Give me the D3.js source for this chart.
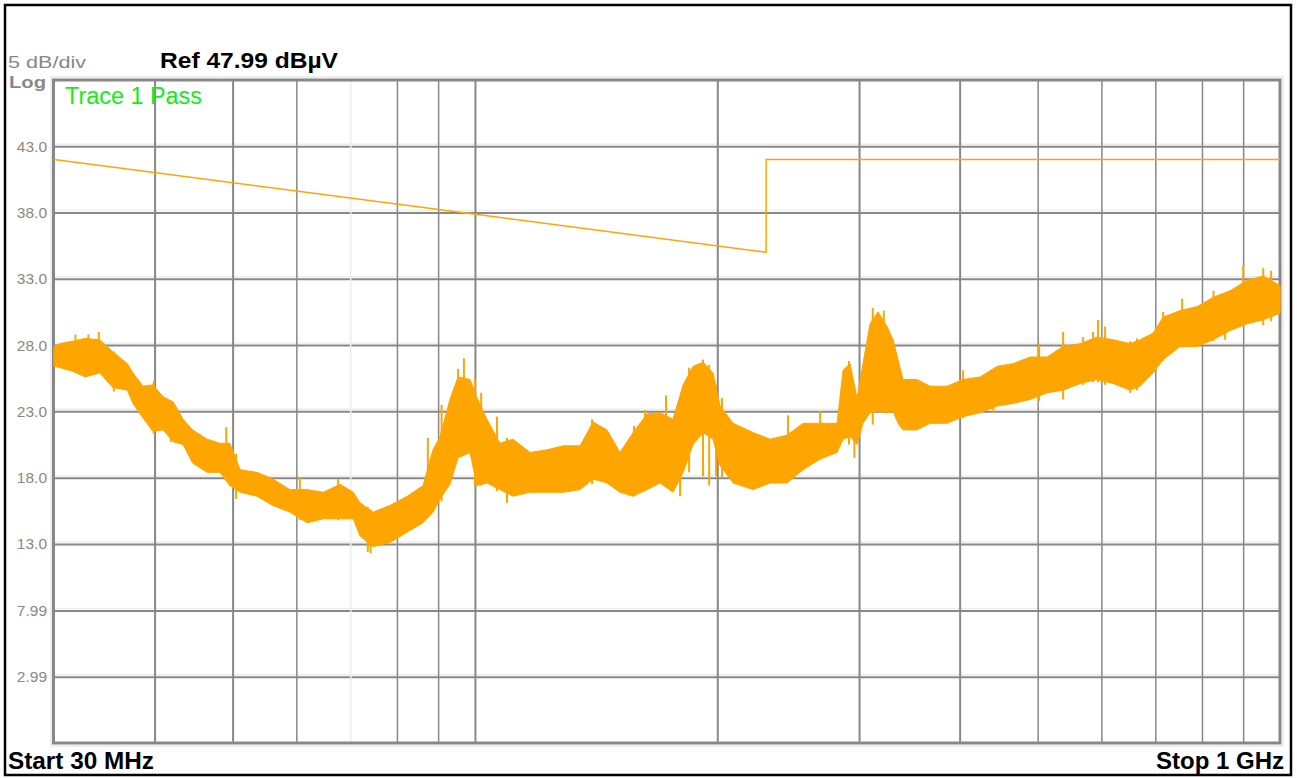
<!DOCTYPE html>
<html>
<head>
<meta charset="utf-8">
<script src="https://cdn.jsdelivr.net/npm/d3@7/dist/d3.min.js"></script>
<style>
  html, body { margin: 0; padding: 0; background: #fff; }
  svg { display: block; }
  text { font-family: "Liberation Sans", Arial, sans-serif; }
</style>
</head>
<body>
<svg id="chart" width="1297" height="778"></svg>
<script>
// ---------------- data ----------------
const refLevel = 47.99;          // dBµV at top of screen
const dbPerDiv = 5;
const yTickValues = [43.0, 38.0, 33.0, 28.0, 23.0, 18.0, 13.0, 7.99, 2.99];
const yTickLabels = ["43.0", "38.0", "33.0", "28.0", "23.0", "18.0", "13.0", "7.99", "2.99"];
const xGridFreqs = [40, 50, 60, 70, 80, 90, 100, 200, 300, 400, 500, 600, 700, 800, 900];
const xFaintFreqs = [70];

// limit line (MHz, dBµV)
const limitFreq = [30, 230, 230, 1000];
const limitVal  = [42.0, 35.0, 42.0, 42.0];

// measured trace envelope (MHz, dBµV)
const traceFreq = [30.0, 30.5, 31.7, 32.8, 34.2, 35.5, 37.0, 37.6, 38.7, 39.8,
  41.0, 42.2, 43.4, 44.6, 46.5, 48.2, 49.6, 51.1, 53.6, 56.1,
  58.9, 61.9, 64.8, 68.0, 70.6, 72.0, 74.7, 78.4, 82.4, 86.2,
  88.7, 90.5, 93.1, 95.3, 98.6, 100.6, 103.5, 107.4, 111.5, 117.1,
  122.9, 128.7, 135.1, 140.2, 145.9, 151.4, 157.2, 163.6, 169.8, 176.2,
  181.4, 186.6, 192.0, 197.6, 201.6, 209.3, 221.6, 232.6, 244.1, 255.6,
  268.4, 281.7, 286.6, 292.4, 298.3, 303.4, 309.6, 316.7, 325.0, 330.6,
  335.4, 340.2, 354.1, 367.5, 385.9, 404.0, 424.3, 445.5, 466.3, 489.4,
  513.7, 537.8, 564.6, 592.6, 620.5, 651.4, 670.3, 695.6, 715.8, 751.5,
  789.1, 826.1, 867.3, 910.4, 953.2, 1000];
const traceHi = [27.9, 28.1, 28.3, 28.5, 28.4, 27.5, 26.6, 25.9, 24.9, 25.0,
  24.1, 23.7, 22.4, 21.6, 20.9, 20.6, 20.6, 18.6, 18.4, 17.9,
  17.1, 17.1, 16.9, 17.5, 16.9, 16.1, 15.4, 15.9, 16.6, 17.4,
  20.1, 21.1, 23.9, 25.6, 25.4, 24.0, 22.4, 20.6, 20.9, 19.9,
  20.1, 20.4, 20.4, 22.2, 21.6, 19.9, 21.4, 22.8, 22.9, 22.4,
  25.0, 26.4, 26.7, 25.9, 23.4, 22.1, 21.4, 20.9, 21.2, 22.1,
  22.1, 22.1, 26.1, 26.6, 24.0, 26.6, 29.6, 30.5, 29.4, 28.4,
  26.9, 25.4, 25.4, 24.9, 24.9, 25.4, 25.6, 26.4, 26.6, 27.1,
  27.1, 27.9, 28.1, 28.6, 28.4, 28.1, 28.4, 28.9, 30.1, 30.6,
  30.9, 31.6, 32.1, 32.9, 33.2, 32.5];
const traceLo = [26.4, 26.3, 26.0, 25.6, 25.9, 24.8, 24.6, 23.6, 22.5, 21.5,
  21.6, 20.7, 20.5, 19.1, 18.4, 18.4, 17.4, 16.9, 16.6, 15.9,
  15.4, 14.6, 14.9, 14.9, 14.9, 13.6, 12.8, 13.1, 13.9, 14.6,
  15.4, 16.4, 17.5, 19.5, 19.9, 17.4, 17.6, 17.1, 16.6, 16.9,
  16.9, 16.9, 17.1, 17.9, 17.6, 16.9, 16.6, 17.1, 17.6, 16.9,
  18.4, 20.5, 21.4, 20.9, 18.9, 17.6, 17.1, 17.6, 17.6, 18.6,
  19.4, 19.9, 20.9, 21.1, 20.5, 22.1, 22.9, 23.0, 22.9, 23.0,
  22.1, 21.6, 21.6, 22.1, 22.1, 22.6, 22.9, 23.4, 23.6, 23.9,
  24.4, 24.6, 25.1, 25.4, 25.1, 24.6, 24.9, 25.9, 26.9, 27.9,
  27.9, 28.4, 29.1, 29.6, 29.9, 30.4];

// individual spikes (MHz, top dBµV, bottom dBµV)
const spikeFreq = [31.9, 33.1, 34.1, 35.6, 39.9, 41.9, 49.1, 50.5, 60.6, 67.6,
  73.6, 74.2, 87.4, 90.9, 95.3, 96.9, 100.0, 101.8, 106.5, 109.6,
  139.8, 157.6, 162.7, 172.7, 179.8, 184.5, 192.0, 195.4, 199.3, 202.7,
  244.8, 268.4, 291.5, 296.0, 312.0, 322.0, 404.0, 440.4, 502.1, 537.8,
  569.5, 585.9, 594.3, 606.4, 651.4, 664.3, 715.8, 755.8, 827.0, 854.8,
  900.0, 953.2, 975.0];
const spikeTop = [28.8, 28.8, 29.0, 27.5, 25.3, 23.7, 21.8, 19.8, 18.0, 17.9,
  15.8, 15.6, 21.0, 23.5, 26.2, 27.0, 25.5, 24.4, 22.6, 21.0,
  22.4, 21.9, 23.1, 24.2, 24.0, 26.3, 26.9, 26.5, 25.0, 24.0,
  22.7, 23.0, 26.8, 24.5, 30.8, 30.6, 26.1, 26.0, 28.1, 29.0,
  28.6, 29.0, 29.9, 29.4, 28.3, 28.5, 30.5, 31.5, 32.1, 31.9,
  34.0, 33.8, 33.6];
const spikeBottom = [26.0, 25.8, 25.9, 24.5, 21.3, 20.7, 18.0, 16.4, 14.8, 14.8,
  12.4, 12.3, 15.0, 16.2, 19.5, 21.0, 17.4, 17.4, 17.0, 16.1,
  17.5, 16.6, 17.0, 17.5, 16.6, 18.4, 18.1, 17.4, 18.1, 18.0,
  18.0, 19.4, 20.5, 19.5, 22.0, 22.9, 22.5, 22.9, 23.8, 23.9,
  25.0, 25.2, 25.2, 25.0, 24.4, 24.6, 26.8, 27.8, 28.3, 28.4,
  29.5, 29.5, 29.8];

// ---------------- drawing ----------------
const svg = d3.select("#chart");
const plot = { left: 54, right: 1280, top: 80, bottom: 743 };

const x = d3.scaleLog().domain([30, 1000]).range([plot.left, plot.right]);
const y = d3.scaleLinear()
  .domain([refLevel - 10 * dbPerDiv, refLevel])
  .range([plot.bottom, plot.top]);

// outer border
svg.append("rect")
  .attr("x", 5).attr("y", 5).attr("width", 1286).attr("height", 770)
  .attr("fill", "none").attr("stroke", "#000").attr("stroke-width", 2.5);

// plot shadow
svg.append("rect")
  .attr("x", plot.left - 3).attr("y", plot.top - 3)
  .attr("width", plot.right - plot.left + 6).attr("height", plot.bottom - plot.top + 6)
  .attr("fill", "none").attr("stroke", "#eeeeee").attr("stroke-width", 2);

// horizontal grid + labels via axis
const yAxis = d3.axisLeft(y)
  .tickValues(yTickValues)
  .tickFormat((d, i) => yTickLabels[i])
  .tickSize(-(plot.right - plot.left))
  .tickPadding(7);
const gy = svg.append("g")
  .attr("transform", `translate(${plot.left},0)`)
  .call(yAxis);
gy.select(".domain").remove();
gy.selectAll(".tick line").attr("stroke", "#888").attr("stroke-width", 2);
gy.selectAll(".tick text")
  .attr("fill", "#888")
  .attr("font-size", 15.5)
  .attr("font-family", "Liberation Sans, Arial, sans-serif");

// light band above horizontal lines
svg.append("g").selectAll("line").data(yTickValues).join("line")
  .attr("x1", plot.left).attr("x2", plot.right)
  .attr("y1", d => y(d) - 2).attr("y2", d => y(d) - 2)
  .attr("stroke", "#eeeeee").attr("stroke-width", 1.5);

// vertical grid via axis
const xAxis = d3.axisBottom(x)
  .tickValues(xGridFreqs)
  .tickFormat("")
  .tickSize(-(plot.bottom - plot.top));
const gx = svg.append("g")
  .attr("transform", `translate(0,${plot.bottom})`)
  .call(xAxis);
gx.select(".domain").remove();
gx.selectAll(".tick line")
  .attr("stroke", d => xFaintFreqs.includes(d) ? "#ededed" : "#888")
  .attr("stroke-width", d => (d === 40 || d === 50 || d === 100 || d === 200 || d === 300 || d === 400) ? 2 : 1.5);

// frame
svg.append("rect")
  .attr("x", plot.left - 0.5).attr("y", plot.top)
  .attr("width", plot.right - plot.left + 0.5).attr("height", plot.bottom - plot.top)
  .attr("fill", "none").attr("stroke", "#888").attr("stroke-width", 3);

// trace envelope band
const traceData = traceFreq.map((f, i) => ({ f, hi: traceHi[i], lo: traceLo[i] }));
svg.append("path")
  .datum(traceData)
  .attr("fill", "#ffa500")
  .attr("stroke", "#ffa500")
  .attr("stroke-width", 1)
  .attr("d", d3.area().x(d => x(d.f)).y0(d => y(d.lo)).y1(d => y(d.hi)));

// spikes
svg.append("g").selectAll("line")
  .data(spikeFreq.map((f, i) => ({ f, t: spikeTop[i], b: spikeBottom[i] })))
  .join("line")
  .attr("x1", d => x(d.f)).attr("x2", d => x(d.f))
  .attr("y1", d => y(d.t)).attr("y2", d => y(d.b))
  .attr("stroke", "#ffa500")
  .attr("stroke-width", 2);

// limit line
const limitData = limitFreq.map((f, i) => ({ f, v: limitVal[i] }));
svg.append("path")
  .datum(limitData)
  .attr("fill", "none")
  .attr("stroke", "#ffa500")
  .attr("stroke-width", 1.5)
  .attr("d", d3.line().x(d => x(d.f)).y(d => y(d.v)));

// texts
svg.append("text").attr("x", 8).attr("y", 68)
  .attr("fill", "#888").attr("font-size", 16)
  .attr("textLength", 78).attr("lengthAdjust", "spacingAndGlyphs")
  .text("5 dB/div");
svg.append("text").attr("x", 9).attr("y", 88)
  .attr("fill", "#888").attr("font-size", 16).attr("font-weight", "bold")
  .attr("textLength", 37).attr("lengthAdjust", "spacingAndGlyphs")
  .text("Log");
svg.append("text").attr("x", 160).attr("y", 68)
  .attr("fill", "#000").attr("font-size", 22).attr("font-weight", "bold")
  .attr("textLength", 178).attr("lengthAdjust", "spacingAndGlyphs")
  .text("Ref 47.99 dBµV");
svg.append("text").attr("x", 65).attr("y", 104)
  .attr("fill", "#11ee11").attr("font-size", 23)
  .attr("textLength", 137).attr("lengthAdjust", "spacingAndGlyphs")
  .text("Trace 1 Pass");
svg.append("text").attr("x", 8).attr("y", 769)
  .attr("fill", "#000").attr("font-size", 24).attr("font-weight", "bold")
  .attr("textLength", 146).attr("lengthAdjust", "spacingAndGlyphs")
  .text("Start 30 MHz");
svg.append("text").attr("x", 1284).attr("y", 769)
  .attr("fill", "#000").attr("font-size", 24).attr("font-weight", "bold")
  .attr("text-anchor", "end")
  .text("Stop 1 GHz");
</script>
</body>
</html>
